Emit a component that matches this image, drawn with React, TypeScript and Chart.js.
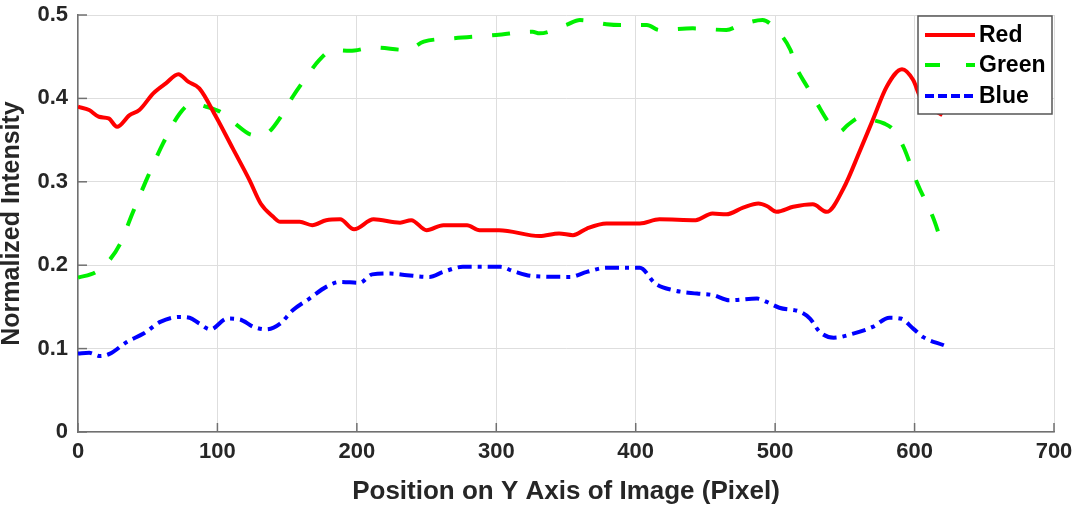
import { useEffect, useRef } from "react";
import { Chart, registerables } from "chart.js";

Chart.register(...registerables);

// Intensity profiles along the image's Y axis, sampled at pixel positions
const redPos = [0, 8, 15, 22, 28, 37, 44, 54, 63, 72, 79, 87, 99, 111, 123, 131, 140, 145, 159, 168, 178, 188, 198, 212, 231, 239, 250, 262, 279, 288, 302, 331, 345, 355, 365, 379, 403, 417, 443, 455, 465, 477, 488, 494, 501, 513, 527, 537, 549, 561, 570, 580, 591, 599, 604, 612, 620];
const redVals = [0.39, 0.386, 0.378, 0.376, 0.366, 0.38, 0.386, 0.406, 0.418, 0.429, 0.42, 0.412, 0.378, 0.34, 0.302, 0.274, 0.258, 0.252, 0.252, 0.248, 0.254, 0.255, 0.243, 0.255, 0.251, 0.254, 0.242, 0.248, 0.248, 0.242, 0.242, 0.235, 0.238, 0.236, 0.244, 0.25, 0.25, 0.255, 0.254, 0.262, 0.261, 0.269, 0.274, 0.271, 0.264, 0.27, 0.273, 0.264, 0.292, 0.338, 0.374, 0.414, 0.435, 0.422, 0.402, 0.388, 0.38];

const greenPos = [0, 13, 22, 30, 39, 49, 61, 73, 82, 92, 102, 111, 126, 135, 147, 154, 164, 173, 183, 195, 212, 236, 248, 269, 300, 326, 331, 350, 360, 379, 389, 408, 417, 441, 465, 475, 491, 501, 511, 515, 523, 530, 539, 546, 552, 561, 570, 578, 585, 592, 602, 614, 621];
const greenVals = [0.185, 0.192, 0.205, 0.225, 0.262, 0.302, 0.346, 0.382, 0.394, 0.39, 0.384, 0.372, 0.356, 0.358, 0.382, 0.402, 0.426, 0.446, 0.458, 0.457, 0.461, 0.458, 0.468, 0.472, 0.476, 0.48, 0.478, 0.488, 0.494, 0.489, 0.488, 0.488, 0.482, 0.484, 0.482, 0.488, 0.494, 0.482, 0.458, 0.438, 0.414, 0.394, 0.37, 0.36, 0.368, 0.377, 0.374, 0.37, 0.362, 0.342, 0.298, 0.254, 0.218];

const bluePos = [0, 8, 16, 23, 35, 47, 59, 73, 80, 87, 95, 107, 116, 126, 135, 145, 154, 166, 178, 188, 202, 211, 224, 236, 252, 262, 276, 303, 312, 326, 353, 365, 379, 403, 414, 427, 444, 456, 467, 487, 494, 503, 518, 525, 532, 542, 556, 570, 582, 590, 599, 606, 621];
const blueVals = [0.094, 0.095, 0.091, 0.094, 0.108, 0.118, 0.132, 0.138, 0.137, 0.13, 0.123, 0.136, 0.135, 0.126, 0.123, 0.13, 0.146, 0.16, 0.174, 0.18, 0.179, 0.189, 0.19, 0.188, 0.186, 0.192, 0.198, 0.198, 0.193, 0.187, 0.186, 0.192, 0.197, 0.197, 0.178, 0.17, 0.166, 0.164, 0.158, 0.16, 0.156, 0.149, 0.144, 0.136, 0.12, 0.113, 0.118, 0.126, 0.137, 0.136, 0.124, 0.114, 0.104];

const seriesNames = ["Red", "Green", "Blue"];
const seriesColors = ["#ff0000", "#00f000", "#0000ff"];
const seriesDashes: number[][] = [[], [18, 20], [14, 6, 4, 6]];

const xTickValues = [0, 100, 200, 300, 400, 500, 600, 700];
const yTickValues = [0, 0.1, 0.2, 0.3, 0.4, 0.5];

const FONT = "'Liberation Sans', Arial, Helvetica, sans-serif";
const AXIS_COLOR = "#707070";
const TEXT_COLOR = "#262626";

const toPoints = (xs: number[], ys: number[]) => xs.map((x, i) => ({ x, y: ys[i] }));

// Inward-pointing tick marks and an in-axes legend box
const axesDecor = {
  id: "axesDecor",
  afterDraw(chart: any) {
    const { ctx, chartArea, scales } = chart;
    const xs = scales.x;
    const ys = scales.y;
    ctx.save();
    ctx.strokeStyle = AXIS_COLOR;
    ctx.lineWidth = 1.5;
    ctx.setLineDash([]);
    const len = 9;
    xTickValues.forEach((v) => {
      const px = xs.getPixelForValue(v);
      ctx.beginPath();
      ctx.moveTo(px, chartArea.bottom);
      ctx.lineTo(px, chartArea.bottom - len);
      ctx.stroke();
    });
    yTickValues.forEach((v) => {
      const py = ys.getPixelForValue(v);
      ctx.beginPath();
      ctx.moveTo(chartArea.left, py);
      ctx.lineTo(chartArea.left + len, py);
      ctx.stroke();
    });

    // legend
    const bx = 918;
    const by = 16;
    const bw = 134;
    const bh = 98;
    ctx.fillStyle = "#ffffff";
    ctx.fillRect(bx, by, bw, bh);
    ctx.strokeStyle = "#555555";
    ctx.lineWidth = 1.5;
    ctx.strokeRect(bx, by, bw, bh);
    const rows = [35, 65, 96];
    ctx.font = `bold 23px ${FONT}`;
    ctx.textBaseline = "middle";
    ctx.textAlign = "left";
    seriesNames.forEach((name, i) => {
      ctx.strokeStyle = seriesColors[i];
      ctx.lineWidth = 4;
      ctx.setLineDash(i === 1 ? [15, 26] : i === 2 ? [9, 4] : []);
      ctx.beginPath();
      ctx.moveTo(925, rows[i]);
      ctx.lineTo(975, rows[i]);
      ctx.stroke();
      ctx.setLineDash([]);
      ctx.fillStyle = "#000000";
      ctx.fillText(name, 979, rows[i] + 1);
    });
    ctx.restore();
  },
};

export default function App() {
  const canvasRef = useRef<HTMLCanvasElement | null>(null);

  useEffect(() => {
    const canvas = canvasRef.current;
    if (!canvas) return;
    const posLists = [redPos, greenPos, bluePos];
    const valLists = [redVals, greenVals, blueVals];
    const chart = new Chart(canvas, {
      type: "line",
      data: {
        datasets: seriesNames.map((name, i) => ({
          label: name,
          data: toPoints(posLists[i], valLists[i]),
          borderColor: seriesColors[i],
          backgroundColor: seriesColors[i],
          borderWidth: 4,
          borderDash: seriesDashes[i],
          pointRadius: 0,
          cubicInterpolationMode: "monotone" as const,
          fill: false,
        })),
      },
      options: {
        responsive: false,
        animation: false,
        layout: { padding: { left: 0, right: 20, top: 15, bottom: 0 } },
        plugins: {
          legend: { display: false },
          tooltip: { enabled: false },
        },
        scales: {
          x: {
            type: "linear",
            min: 0,
            max: 700,
            afterBuildTicks: (scale: any) => {
              scale.ticks = xTickValues.map((v) => ({ value: v }));
            },
            afterFit: (scale: any) => {
              scale.height = 73;
              scale.paddingLeft = 0;
              scale.paddingRight = 0;
            },
            grid: { color: "#dedede", lineWidth: 1, drawTicks: false },
            border: { color: AXIS_COLOR, width: 1.5 },
            ticks: {
              color: TEXT_COLOR,
              font: { family: FONT, size: 22, weight: "bold" },
              padding: 7,
              maxRotation: 0,
            },
            title: {
              display: true,
              text: "Position on Y Axis of Image (Pixel)",
              color: TEXT_COLOR,
              font: { family: FONT, size: 26, weight: "bold", lineHeight: 1 },
              padding: { top: 0, bottom: 0 },
            },
          },
          y: {
            type: "linear",
            min: 0,
            max: 0.5,
            afterBuildTicks: (scale: any) => {
              scale.ticks = yTickValues.map((v) => ({ value: v }));
            },
            afterFit: (scale: any) => {
              scale.width = 78;
              scale.paddingTop = 0;
              scale.paddingBottom = 0;
            },
            grid: { color: "#dedede", lineWidth: 1, drawTicks: false },
            border: { color: AXIS_COLOR, width: 1.5 },
            ticks: {
              color: TEXT_COLOR,
              font: { family: FONT, size: 22, weight: "bold" },
              padding: 10,
              callback: (v: any) => String(Math.round(Number(v) * 10) / 10),
            },
            title: {
              display: true,
              text: "Normalized Intensity",
              color: TEXT_COLOR,
              font: { family: FONT, size: 25, weight: "bold", lineHeight: 1 },
              padding: { top: 0, bottom: 0 },
            },
          },
        },
      },
      plugins: [axesDecor],
    });
    return () => chart.destroy();
  }, []);

  return (
    <div style={{ position: "fixed", left: 0, top: 0, width: 1074, height: 505, background: "#ffffff" }}>
      <canvas ref={canvasRef} width={1074} height={505} />
    </div>
  );
}
